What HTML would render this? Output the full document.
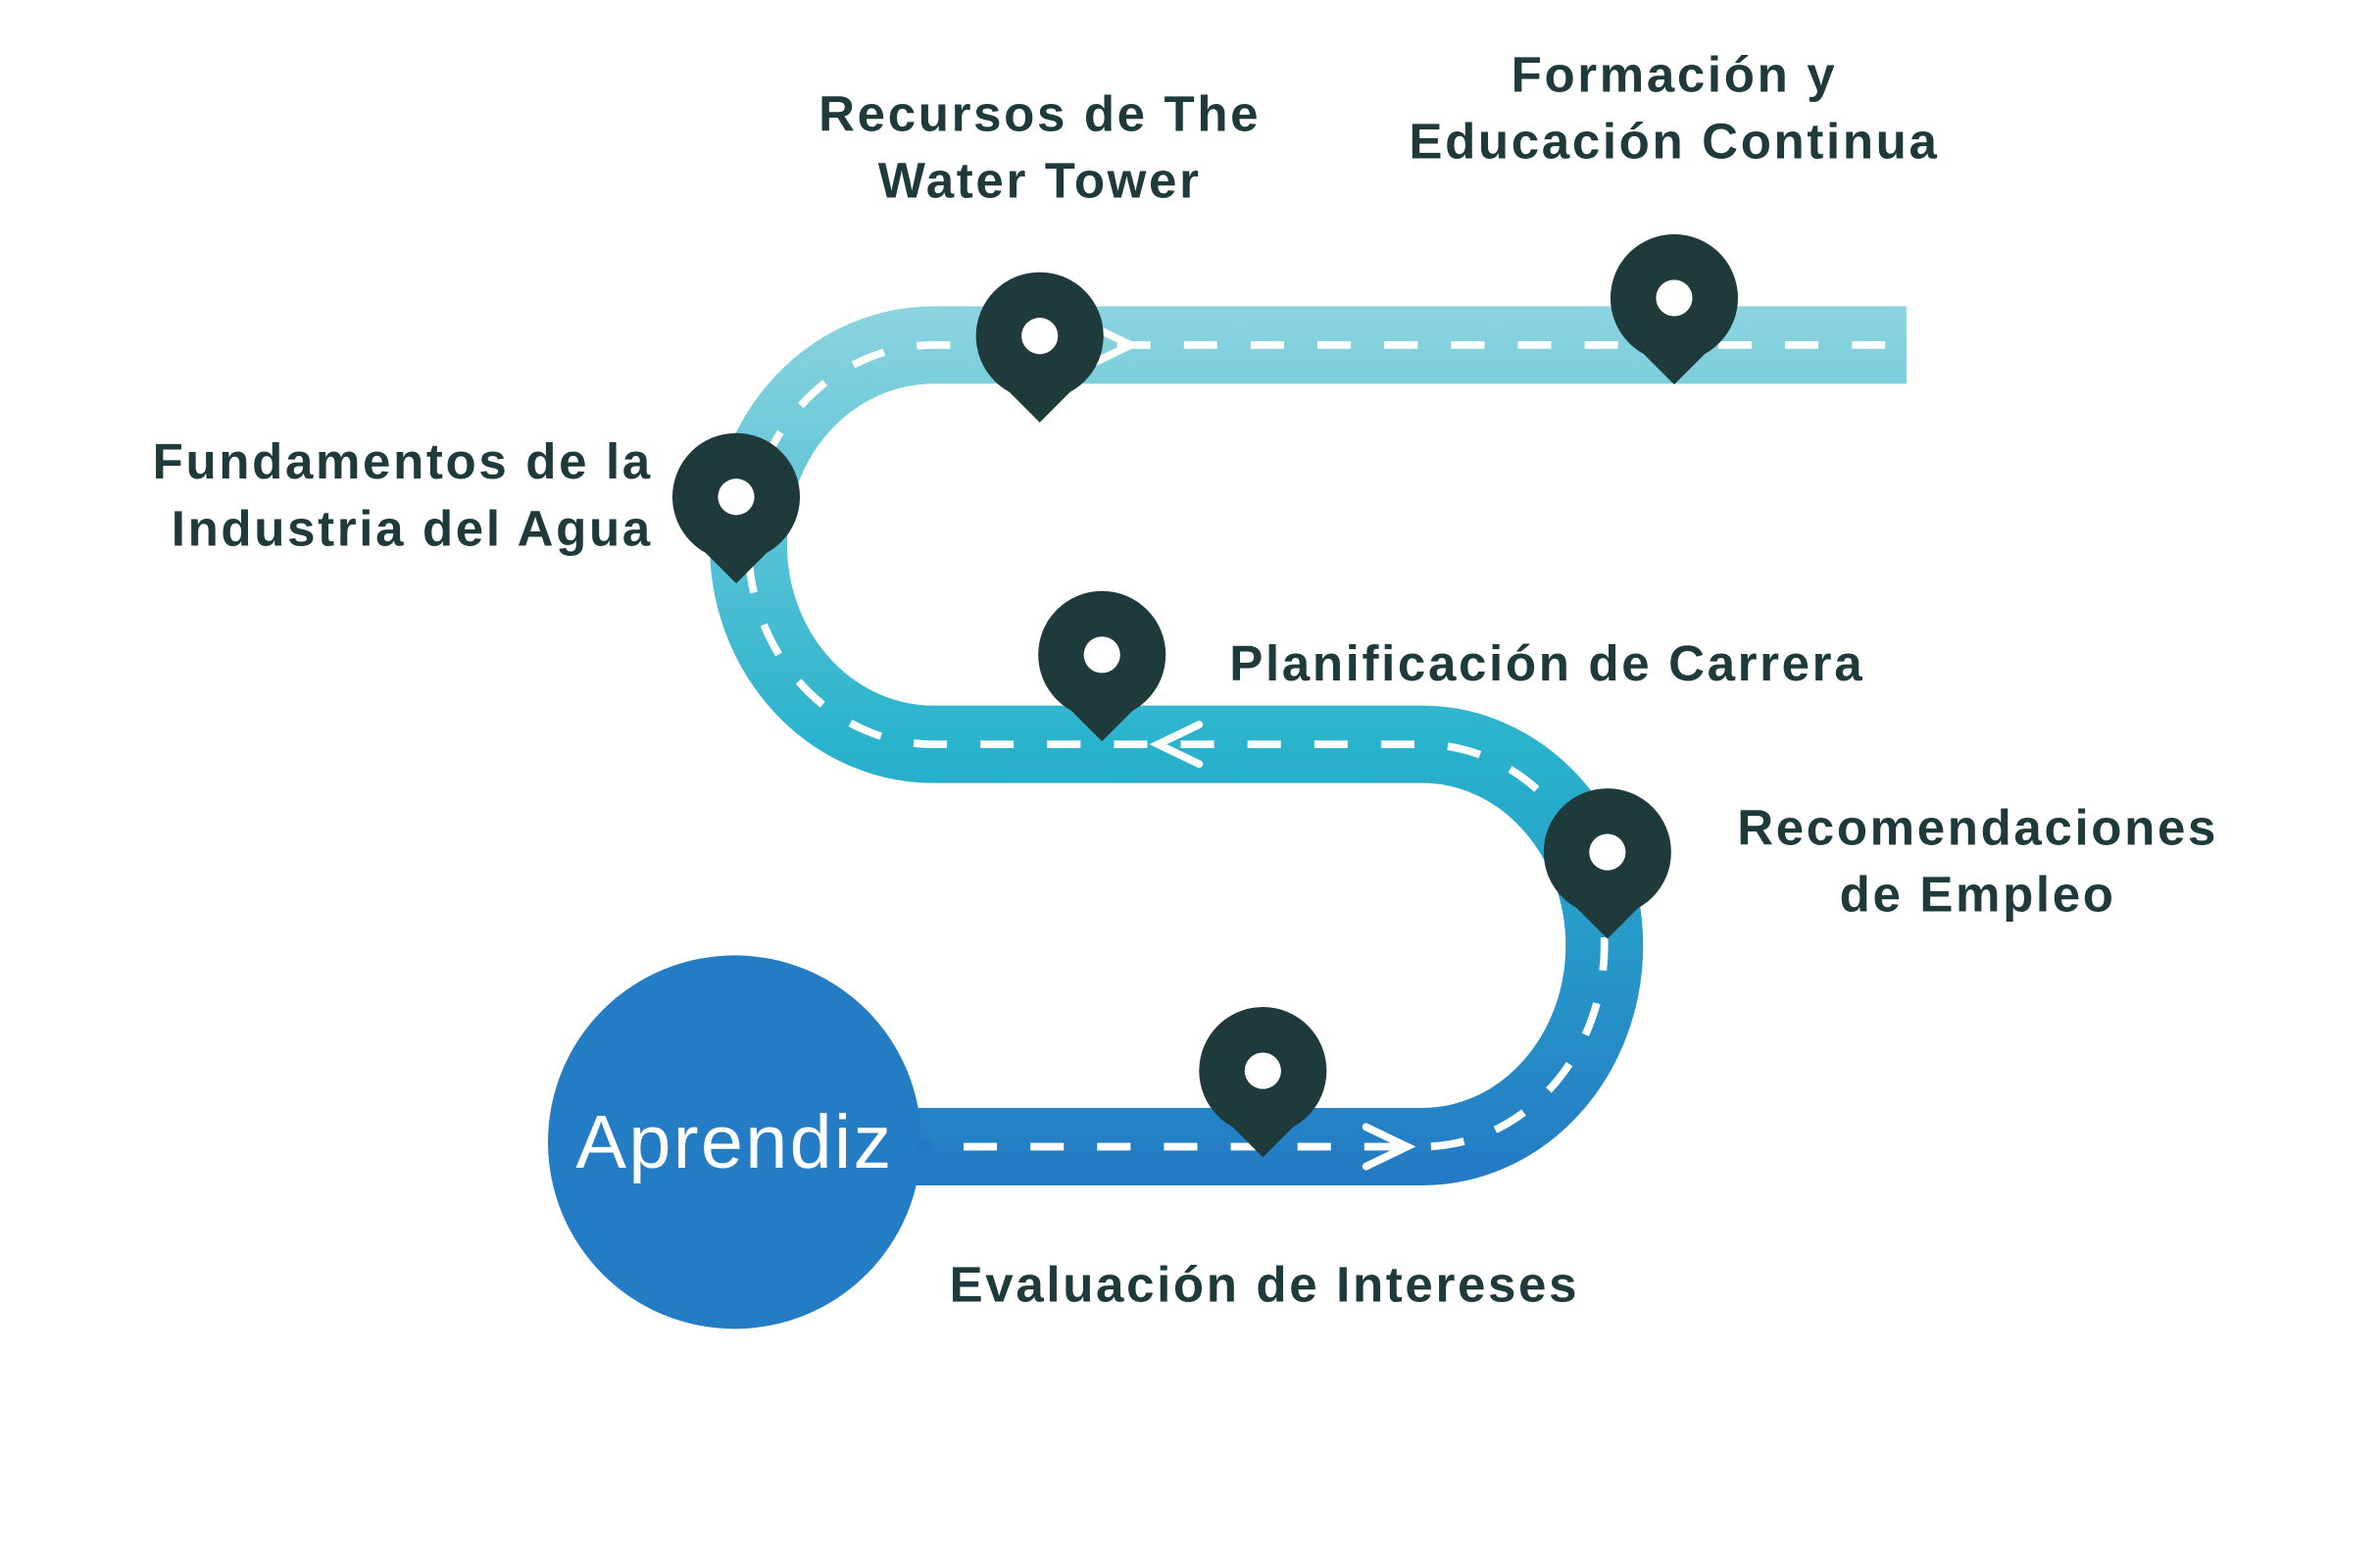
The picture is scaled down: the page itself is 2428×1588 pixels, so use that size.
<!DOCTYPE html>
<html><head><meta charset="utf-8"><style>
html,body{margin:0;padding:0;background:#fff;}
svg{display:block;}
text{font-family:"Liberation Sans",sans-serif;font-weight:bold;fill:#1f3a3b;}
</style></head><body>
<svg width="2428" height="1588" viewBox="0 0 1568 1025" xmlns="http://www.w3.org/2000/svg">
<defs>
<linearGradient id="g" x1="0" y1="200" x2="0" y2="782" gradientUnits="userSpaceOnUse">
<stop offset="0" stop-color="#8dd4e0"/>
<stop offset="0.5" stop-color="#29b3cc"/>
<stop offset="1" stop-color="#2479c4"/>
</linearGradient>
<g id="pin">
<circle cx="0" cy="0" r="42" fill="#1f3a3b"/>
<path d="M-30,27 L0,-3 L30,27 L0,57 Z" fill="#1f3a3b"/>
<circle cx="0" cy="0" r="12" fill="#fff"/>
</g>
</defs>
<path d="M1256,227 L615,227 A122,131.5 0 0 0 615,490 L937,490 A120,132.5 0 0 1 937,755 L485,755" fill="none" stroke="url(#g)" stroke-width="51"/>
<path d="M1242,227 L615,227 A122,131.5 0 0 0 615,490 L937,490 A120,132.5 0 0 1 937,755 L600,755" fill="none" stroke="#fff" stroke-width="5" stroke-dasharray="22 22"/>
<g fill="none" stroke="#fff" stroke-width="5" stroke-linecap="round">
<polyline points="718,214 745,227 718,240"/>
<polyline points="790,477 763,490 790,503"/>
<polyline points="900,742 927,755 900,768"/>
</g>
<circle cx="484" cy="752" r="123" fill="#237cc4"/>
<rect x="604" y="750" width="10" height="10" fill="#2479c4"/>
<text x="484" y="769" text-anchor="middle" style="font-weight:normal;fill:#fff;font-size:50px;letter-spacing:1.5px">Aprendiz</text>
<use href="#pin" x="685" y="221"/>
<use href="#pin" x="1103" y="196"/>
<use href="#pin" x="485" y="327"/>
<use href="#pin" x="726" y="431"/>
<use href="#pin" x="1059" y="561"/>
<use href="#pin" x="832" y="705"/>
<g font-size="33" letter-spacing="1.7">
<text x="685" y="86" text-anchor="middle">Recursos de The</text>
<text x="685" y="130" text-anchor="middle">Water Tower</text>
<text x="1103" y="60" text-anchor="middle">Formación y</text>
<text x="1103" y="104" text-anchor="middle">Educación Continua</text>
<text x="430" y="315" text-anchor="end">Fundamentos de la</text>
<text x="430" y="359" text-anchor="end">Industria del Agua</text>
<text x="810" y="448">Planificación de Carrera</text>
<text x="1303" y="556" text-anchor="middle">Recomendaciones</text>
<text x="1303" y="600" text-anchor="middle">de Empleo</text>
<text x="833" y="857" text-anchor="middle">Evaluación de Intereses</text>
</g>
</svg>
</body></html>
